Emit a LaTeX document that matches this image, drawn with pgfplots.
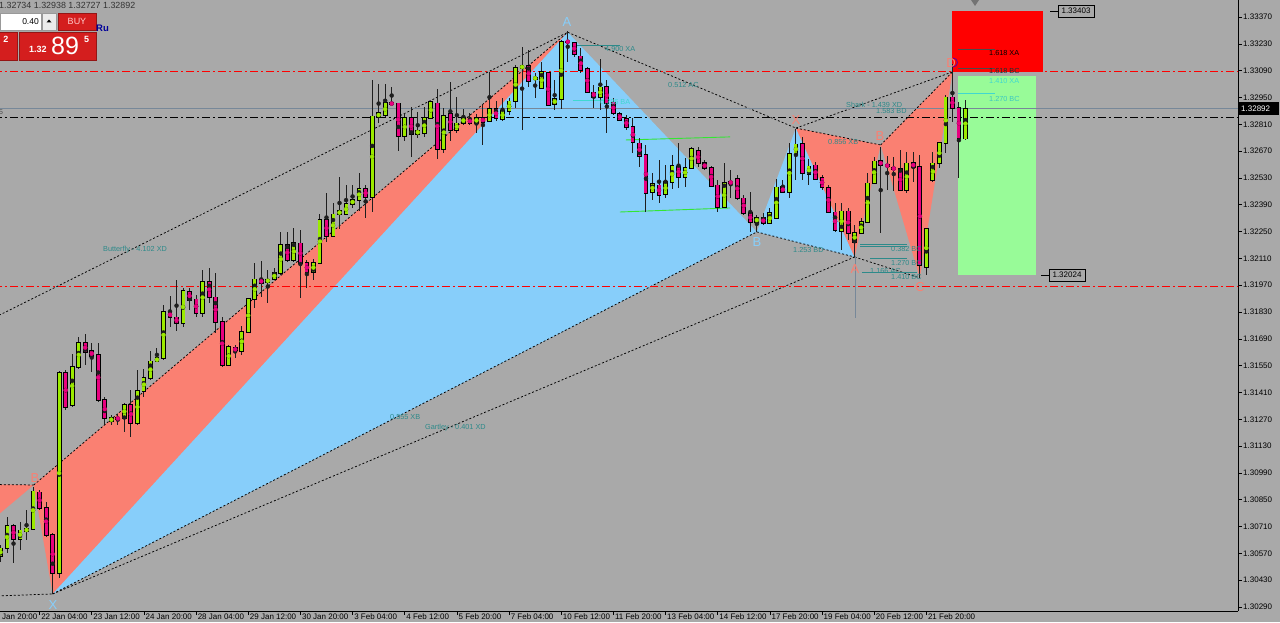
\documentclass[border=0pt]{standalone}
\usepackage{fontspec}
\setmainfont{Liberation Sans}
\usepackage{pgfplots}
\usepackage{pgfplotstable}
\pgfplotsset{compat=1.18}

\definecolor{bg}{HTML}{A9A9A9}
\definecolor{salmonc}{HTML}{FA8072}
\definecolor{skyb}{HTML}{87CEFA}
\definecolor{bull}{HTML}{9BEA00}
\definecolor{bear}{HTML}{E8007F}
\definecolor{wick}{HTML}{1E1E1E}
\definecolor{tealt}{HTML}{2D8A8A}
\definecolor{cyant}{HTML}{40D8D0}
\definecolor{chan}{HTML}{33E633}
\definecolor{bidl}{HTML}{778899}
\definecolor{lgreen}{HTML}{98FB98}
\definecolor{buyred}{HTML}{D41E1E}

\pgfplotstableread{
i o h l c
-1 1.30556 1.30614 1.30525 1.30598
0 1.30598 1.30760 1.30572 1.30713
1 1.30713 1.30723 1.30520 1.30645
2 1.30645 1.30734 1.30588 1.30692
3 1.30687 1.30797 1.30640 1.30697
4 1.30697 1.30917 1.30692 1.30896
5 1.30890 1.30901 1.30797 1.30807
6 1.30807 1.30838 1.30656 1.30666
7 1.30666 1.30676 1.30358 1.30468
8 1.30468 1.31522 1.30442 1.31512
9 1.31512 1.31527 1.31319 1.31334
10 1.31345 1.31611 1.31334 1.31543
11 1.31543 1.31700 1.31533 1.31668
12 1.31668 1.31715 1.31553 1.31621
13 1.31627 1.31668 1.31517 1.31600
14 1.31606 1.31668 1.31360 1.31371
15 1.31371 1.31386 1.31240 1.31277
16 1.31261 1.31292 1.31240 1.31277
17 1.31277 1.31298 1.31240 1.31272
18 1.31277 1.31355 1.31204 1.31345
19 1.31345 1.31423 1.31178 1.31251
20 1.31251 1.31527 1.31240 1.31418
21 1.31418 1.31533 1.31386 1.31486
22 1.31486 1.31627 1.31475 1.31574
23 1.31574 1.31642 1.31569 1.31590
24 1.31590 1.31867 1.31580 1.31830
25 1.31830 1.31914 1.31752 1.31804
26 1.31804 1.31997 1.31731 1.31773
27 1.31773 1.31955 1.31752 1.31940
28 1.31935 1.31955 1.31840 1.31893
29 1.31898 1.31919 1.31804 1.31825
30 1.31825 1.32049 1.31804 1.31987
31 1.31987 1.32060 1.31877 1.31908
32 1.31908 1.32034 1.31720 1.31778
33 1.31778 1.31804 1.31543 1.31553
34 1.31553 1.31658 1.31548 1.31647
35 1.31642 1.31658 1.31590 1.31627
36 1.31627 1.31757 1.31606 1.31726
37 1.31726 1.31903 1.31720 1.31898
38 1.31898 1.32086 1.31851 1.32002
39 1.32002 1.32096 1.31908 1.31981
40 1.31987 1.32049 1.31877 1.32002
41 1.32002 1.32060 1.31997 1.32034
42 1.32034 1.32248 1.32023 1.32180
43 1.32180 1.32248 1.32091 1.32102
44 1.32102 1.32269 1.32091 1.32190
45 1.32190 1.32258 1.31903 1.32086
46 1.32086 1.32102 1.31955 1.32039
47 1.32039 1.32107 1.31997 1.32086
48 1.32086 1.32342 1.32081 1.32310
49 1.32310 1.32451 1.32196 1.32227
50 1.32227 1.32399 1.32222 1.32342
51 1.32342 1.32535 1.32263 1.32357
52 1.32342 1.32493 1.32336 1.32394
53 1.32394 1.32493 1.32373 1.32415
54 1.32415 1.32556 1.32357 1.32472
55 1.32472 1.32493 1.32321 1.32430
56 1.32430 1.33041 1.32352 1.32853
57 1.32848 1.33020 1.32817 1.32869
58 1.32858 1.33020 1.32848 1.32921
59 1.32921 1.33005 1.32916 1.32916
60 1.32921 1.32921 1.32671 1.32749
61 1.32749 1.32869 1.32723 1.32843
62 1.32843 1.32900 1.32639 1.32759
63 1.32759 1.32874 1.32738 1.32780
64 1.32764 1.32900 1.32744 1.32843
65 1.32843 1.32931 1.32838 1.32926
66 1.32921 1.32994 1.32629 1.32681
67 1.32681 1.32895 1.32660 1.32853
68 1.32864 1.33031 1.32723 1.32780
69 1.32780 1.32952 1.32764 1.32817
70 1.32817 1.32890 1.32806 1.32843
71 1.32838 1.32869 1.32806 1.32817
72 1.32817 1.32864 1.32764 1.32843
73 1.32843 1.32911 1.32702 1.32822
74 1.32827 1.33083 1.32822 1.32890
75 1.32890 1.32931 1.32827 1.32843
76 1.32838 1.32947 1.32827 1.32879
77 1.32879 1.32947 1.32858 1.32931
78 1.32931 1.33119 1.32895 1.33104
79 1.33104 1.33213 1.32780 1.33114
80 1.33114 1.33198 1.33005 1.33036
81 1.33046 1.33078 1.32947 1.33057
82 1.32999 1.33135 1.32999 1.33083
83 1.33078 1.33083 1.32905 1.32911
84 1.32916 1.33041 1.32885 1.32942
85 1.32942 1.33250 1.32890 1.33240
86 1.33245 1.33297 1.33135 1.33240
87 1.33234 1.33240 1.33161 1.33177
88 1.33166 1.33208 1.33078 1.33093
89 1.33099 1.33109 1.32973 1.32978
90 1.32978 1.33015 1.32895 1.32952
91 1.32952 1.33151 1.32885 1.33005
92 1.33005 1.33041 1.32764 1.32921
93 1.32926 1.32947 1.32858 1.32869
94 1.32864 1.32874 1.32827 1.32832
95 1.32838 1.32858 1.32780 1.32796
96 1.32796 1.32843 1.32660 1.32718
97 1.32712 1.32738 1.32587 1.32644
98 1.32650 1.32702 1.32352 1.32451
99 1.32456 1.32556 1.32415 1.32498
100 1.32493 1.32624 1.32399 1.32441
101 1.32446 1.32597 1.32425 1.32509
102 1.32509 1.32650 1.32472 1.32592
103 1.32592 1.32712 1.32477 1.32535
104 1.32535 1.32634 1.32483 1.32582
105 1.32582 1.32691 1.32577 1.32681
106 1.32671 1.32691 1.32587 1.32608
107 1.32608 1.32624 1.32571 1.32582
108 1.32582 1.32592 1.32488 1.32488
109 1.32493 1.32519 1.32352 1.32378
110 1.32378 1.32608 1.32373 1.32503
111 1.32509 1.32571 1.32425 1.32503
112 1.32524 1.32545 1.32415 1.32425
113 1.32425 1.32441 1.32336 1.32347
114 1.32347 1.32456 1.32248 1.32300
115 1.32300 1.32336 1.32248 1.32321
116 1.32321 1.32347 1.32284 1.32295
117 1.32295 1.32373 1.32289 1.32347
118 1.32321 1.32524 1.32316 1.32483
119 1.32483 1.32519 1.32451 1.32456
120 1.32456 1.32712 1.32425 1.32655
121 1.32655 1.32785 1.32519 1.32707
122 1.32707 1.32744 1.32519 1.32556
123 1.32550 1.32629 1.32493 1.32592
124 1.32597 1.32613 1.32519 1.32524
125 1.32530 1.32545 1.32467 1.32483
126 1.32477 1.32493 1.32347 1.32352
127 1.32352 1.32399 1.32248 1.32258
128 1.32253 1.32399 1.32154 1.32357
129 1.32357 1.32373 1.32206 1.32242
130 1.32196 1.32284 1.32117 1.32242
131 1.32242 1.32321 1.32242 1.32300
132 1.32300 1.32556 1.32295 1.32503
133 1.32503 1.32639 1.32503 1.32618
134 1.32618 1.32691 1.32242 1.32597
135 1.32597 1.32644 1.32467 1.32592
136 1.32582 1.32639 1.32462 1.32577
137 1.32577 1.32676 1.32462 1.32467
138 1.32467 1.32665 1.32451 1.32608
139 1.32608 1.32665 1.32509 1.32587
140 1.32587 1.32650 1.32008 1.32075
141 1.32065 1.32269 1.32023 1.32263
142 1.32519 1.32665 1.32509 1.32608
143 1.32608 1.32712 1.32582 1.32712
144 1.32712 1.32963 1.32660 1.32952
145 1.32952 1.33125 1.32822 1.32895
146 1.32895 1.32926 1.32530 1.32738
147 1.32734 1.32938 1.32727 1.32892
}\candles

\tikzset{
  ann/.style={font=\fontsize{7.3}{8}\selectfont, text=tealt, anchor=west, inner sep=0pt},
  lbl/.style={font=\fontsize{13}{14}\selectfont, inner sep=0pt},
}

\begin{document}
\begin{tikzpicture}
\clip (0,0) rectangle (1280pt,622pt);
\fill[bg] (0,0) rectangle (1280pt,622pt);
\begin{axis}[
  at={(0pt,11pt)}, anchor=south west,
  width=1238pt, height=611pt, scale only axis,
  xmin=-1.0736, xmax=188.8,
  ymin=1.30269, ymax=1.334587,
  axis x line*=bottom, axis y line*=right,
  axis line style={black, line width=0.8pt},
  tick align=outside, major tick length=3.5pt,
  tick style={black, line width=0.6pt},
  xtick={5,13,...,141},
  xticklabels={22 Jan 04:00, 23 Jan 12:00, 24 Jan 20:00, 28 Jan 04:00, 29 Jan 12:00, 30 Jan 20:00, 3 Feb 04:00, 4 Feb 12:00, 5 Feb 20:00, 7 Feb 04:00, 10 Feb 12:00, 11 Feb 20:00, 13 Feb 04:00, 14 Feb 12:00, 17 Feb 20:00, 19 Feb 04:00, 20 Feb 12:00, 21 Feb 20:00},
  xticklabel style={anchor=north west, xshift=0.5pt, yshift=2pt, inner sep=1pt},
  ytick={1.3029,1.3043,1.3057,1.3071,1.3085,1.3099,1.3113,1.3127,1.3141,1.3155,1.3169,1.3183,1.3197,1.3211,1.3225,1.3239,1.3253,1.3267,1.3281,1.3295,1.3309,1.3323,1.3337},
  scaled y ticks=false,
  /pgf/number format/fixed, /pgf/number format/fixed zerofill,
  /pgf/number format/precision=5, /pgf/number format/assume math mode=true,
  yticklabel style={anchor=west, inner sep=1.5pt},
  tick label style={font=\fontsize{8}{9}\selectfont, text=black},
]
% --- harmonic pattern areas ---
\addplot[fill=salmonc, draw=none] coordinates {(-10.3,1.30932) (4.1,1.30927) (-10.3,1.30515)} -- cycle;
\addplot[fill=salmonc, draw=none] coordinates {(4.1,1.30927) (7,1.30358) (86,1.33290)} -- cycle;
\addplot[fill=skyb, draw=none] coordinates {(7,1.30358) (86,1.33290) (115,1.32248)} -- cycle;
\addplot[fill=skyb, draw=none] coordinates {(115,1.32248) (121,1.32790) (130,1.32117)} -- cycle;
\addplot[fill=salmonc, draw=none] coordinates {(121,1.32790) (130,1.32117) (134,1.32702)} -- cycle;
\addplot[fill=salmonc, draw=none] coordinates {(134,1.32702) (140,1.32008) (145,1.33083)} -- cycle;
% --- rectangles ---
\addplot[fill=red, draw=none] coordinates {(144.94,1.33085) (158.9,1.33085) (158.9,1.33403) (144.94,1.33403)} -- cycle;
\addplot[fill=lgreen, draw=none] coordinates {(145.86,1.32024) (157.82,1.32024) (157.82,1.33062) (145.86,1.33062)} -- cycle;
% --- dashed pattern lines ---
\pgfplotsset{dl/.style={black, line width=0.75pt, dash pattern=on 2pt off 2pt}}
\addplot[dl] coordinates {(-10,1.31664) (86,1.33290)};
\addplot[dl] coordinates {(-10.3,1.30932) (4.1,1.30927)};
\addplot[dl] coordinates {(4.1,1.30927) (86,1.33290)};
\addplot[dl] coordinates {(-10,1.30337) (7,1.30358)};
\addplot[dl] coordinates {(7,1.30358) (115,1.32248)};
\addplot[dl] coordinates {(7,1.30358) (130,1.32117)};
\addplot[dl] coordinates {(86,1.33290) (121,1.32790)};
\addplot[dl] coordinates {(115,1.32248) (130,1.32117)};
\addplot[dl] coordinates {(121,1.32790) (134,1.32702)};
\addplot[dl] coordinates {(121,1.32790) (145,1.33083)};
\addplot[dl] coordinates {(130,1.32117) (140,1.32008)};
\addplot[dl] coordinates {(134,1.32702) (145,1.33083)};
% --- level lines ---
\addplot[tealt, line width=0.8pt] coordinates {(87.1,1.33224) (94.0,1.33224)};
\addplot[cyant, line width=0.8pt] coordinates {(86.8,1.32937) (92.5,1.32937)};
\addplot[chan, line width=0.9pt] coordinates {(94.9,1.32728) (110.9,1.32744)};
\addplot[chan, line width=0.9pt] coordinates {(94.0,1.32352) (110.9,1.32373)};
\addplot[tealt, line width=0.8pt] coordinates {(130.8,1.32185) (138.0,1.32185)};
\addplot[tealt, line width=0.8pt] coordinates {(130.8,1.32170) (138.0,1.32170)};
\addplot[tealt, line width=0.8pt] coordinates {(132.4,1.32112) (138.0,1.32112)};
\addplot[tealt, line width=0.8pt] coordinates {(131.1,1.32039) (139.6,1.32039)};
\addplot[black!70, line width=0.8pt] coordinates {(145.9,1.33203) (151.5,1.33203)};
\addplot[black!70, line width=0.8pt] coordinates {(145.9,1.33104) (151.5,1.33104)};
\addplot[cyant, line width=0.8pt] coordinates {(145.9,1.32969) (151.5,1.32969)};
\addplot[bidl, line width=0.8pt] coordinates {(130.06,1.32117) (130.06,1.31799)};
% --- horizontal lines ---
\addplot[red, line width=0.8pt, dash pattern=on 8pt off 3pt on 2pt off 3pt] coordinates {(-2,1.33085) (190,1.33085)};
\addplot[red, line width=0.8pt, dash pattern=on 8pt off 3pt on 2pt off 3pt] coordinates {(-2,1.31966) (190,1.31966)};
\addplot[black, line width=0.8pt, dash pattern=on 8pt off 3pt on 2pt off 3pt] coordinates {(-2,1.32848) (190,1.32848)};
\addplot[bidl, line width=0.8pt] coordinates {(-2,1.32892) (190,1.32892)};
% --- candles ---
\addplot[only marks, mark=none, wick, error bars/.cd, y dir=both, y explicit, error mark=none,
  error bar style={line width=1pt, color=wick, solid}]
  table[x=i, y expr={(\thisrow{h}+\thisrow{l})/2}, y error expr={(\thisrow{h}-\thisrow{l})/2}] {\candles};
\addplot[only marks, mark=none, black, error bars/.cd, y dir=both, y explicit, error mark=none,
  error bar style={line width=4.8pt, color=black, solid}]
  table[x=i, y expr={(\thisrow{o}+\thisrow{c})/2}, y error expr={abs(\thisrow{c}-\thisrow{o})/2+0.000035}] {\candles};
\addplot[only marks, mark=none, bull, restrict expr to domain={\thisrow{c}-\thisrow{o}}{0:1},
  error bars/.cd, y dir=both, y explicit, error mark=none,
  error bar style={line width=3pt, color=bull, solid}]
  table[x=i, y expr={(\thisrow{o}+\thisrow{c})/2}, y error expr={abs(\thisrow{c}-\thisrow{o})/2}] {\candles};
\addplot[only marks, mark=none, bear, restrict expr to domain={\thisrow{c}-\thisrow{o}}{-1:-0.000001},
  error bars/.cd, y dir=both, y explicit, error mark=none,
  error bar style={line width=3pt, color=bear, solid}]
  table[x=i, y expr={(\thisrow{o}+\thisrow{c})/2}, y error expr={abs(\thisrow{c}-\thisrow{o})/2}] {\candles};
\end{axis}

\begin{scope}[x=1pt,y=-1pt,yshift=622pt]
% bottom partial label (cut at the left edge, as in the reference)
\node[anchor=north west, inner sep=1pt, font=\fontsize{8}{9}\selectfont] at (-10.1,613) {21 Jan 20:00};
% top shift marker
\fill[black!55] (971,0) -- (979,0) -- (975,6) -- cycle;
% current price box
\fill[black] (1238,102) rectangle (1279,115);
\node[text=white, anchor=west, inner sep=0pt, font=\fontsize{8}{9}\selectfont] at (1241,108.5) {1.32892};
% rectangle price labels
\draw[black, line width=0.8pt] (1050,11) -- (1058,11);
\draw[black, fill=bg, line width=0.7pt] (1058,5) rectangle (1094,17);
\node[anchor=center, inner sep=0pt, font=\fontsize{8}{9}\selectfont] at (1076,11) {1.33403};
\draw[black, line width=0.8pt] (1041,275) -- (1049,275);
\draw[black, fill=bg, line width=0.7pt] (1049,269) rectangle (1085,281);
\node[anchor=center, inner sep=0pt, font=\fontsize{8}{9}\selectfont] at (1067,275) {1.32024};
% left edge remnants
\node[anchor=west, inner sep=0pt, font=\fontsize{7}{8}\selectfont, text=black!70] at (-1,112) {5};
% one-click panel
\node[anchor=west, inner sep=0pt, font=\fontsize{8.9}{9}\selectfont, text=black!80] at (-1,5) {1.32734 1.32938 1.32727 1.32892};
\draw[fill=white, draw=black!40] (0,13) rectangle (41,30);
\node[anchor=east, inner sep=0pt, font=\fontsize{8.5}{9}\selectfont] at (39,21.5) {0.40};
\draw[fill=black!8, draw=black!40] (42,13) rectangle (56,30);
\fill[black] (46.5,22.5) -- (51.5,22.5) -- (49,19.5) -- cycle;
\draw[fill=buyred, draw=buyred!70!black] (58,13) rectangle (96,30);
\node[text=white!80!red, inner sep=0pt, font=\fontsize{9}{10}\selectfont] at (77,21.5) {BUY};
\node[anchor=west, text=blue!60!black, inner sep=0pt, font=\fontsize{9.5}{10}\selectfont\bfseries] at (96,28) {Ru};
\draw[fill=buyred, draw=buyred!70!black] (-1,32) rectangle (17,60);
\node[text=white, inner sep=0pt, font=\fontsize{9}{10}\selectfont\bfseries] at (6,39) {2};
\draw[fill=buyred, draw=buyred!70!black] (19,32) rectangle (96,60);
\node[text=white, anchor=west, inner sep=0pt, font=\fontsize{9}{10}\selectfont\bfseries] at (29,49) {1.32};
\node[text=white, anchor=west, inner sep=0pt, font=\fontsize{25}{26}\selectfont] at (51,46) {89};
\node[text=white, anchor=west, inner sep=0pt, font=\fontsize{9}{10}\selectfont\bfseries] at (84,39) {5};
% pattern point labels
\node[lbl, text=skyb] at (567,22) {A};
\node[lbl, text=skyb] at (53,605) {X};
\node[lbl, text=skyb] at (757,242) {B};
\node[lbl, text=salmonc] at (35,478) {B};
\node[lbl, text=salmonc] at (796,120) {X};
\node[lbl, text=salmonc] at (880,136) {B};
\node[lbl, text=salmonc] at (855,269) {A};
\node[lbl, text=salmonc] at (920,287) {C};
\node[lbl, text=salmonc] at (951,63) {D};
\draw[violet!80!blue, line width=0.9pt] (953,58) arc[start angle=90, end angle=-90, radius=4.5pt];
% annotations
\node[ann] at (103,250) {Butterfly - 4.102 XD};
\node[ann] at (390,417) {0.555 XB};
\node[ann] at (425,428) {Gartley - 0.401 XD};
\node[ann] at (605,49) {4.900 XA};
\node[ann] at (668,85) {0.512 AC};
\node[ann, text=cyant] at (600,102) {0.786 BA};
\node[ann] at (828,142) {0.856 XB};
\node[ann] at (793,250) {1.253 BD};
\node[ann] at (846,105) {Shark - 1.439 XD};
\node[ann] at (876,111) {1.583 BD};
\node[ann] at (891,249) {0.382 BC};
\node[ann] at (891,263) {1.270 BC};
\node[ann] at (870,271) {1.166 AC};
\node[ann] at (891,277) {1.410 BC};
\node[ann, text=black] at (989,53) {1.618 XA};
\node[ann, text=black!60!tealt] at (989,71) {1.618 BC};
\node[ann, text=cyant] at (989,81) {1.410 XA};
\node[ann, text=cyant!80!tealt] at (989,99) {1.270 BC};
\end{scope}
\end{tikzpicture}
\end{document}
